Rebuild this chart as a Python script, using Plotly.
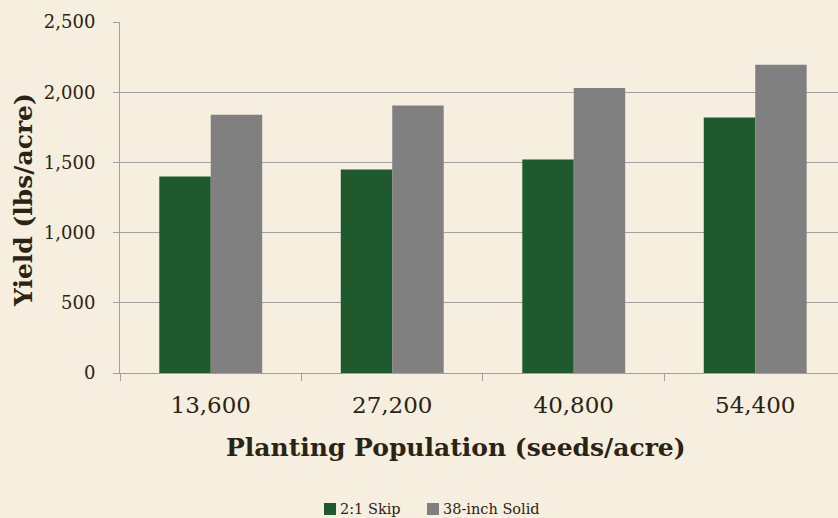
import plotly.graph_objects as go

categories = ["13,600", "27,200", "40,800", "54,400"]
skip_2_1 = [1400, 1450, 1520, 1820]
solid_38 = [1840, 1905, 2030, 2195]
series_names = ["2:1 Skip", "38-inch Solid"]
series_colors = ["#1f5a2e", "#808080"]
y_ticks = [0, 500, 1000, 1500, 2000, 2500]
y_ticklabels = ["0", "500", "1,000", "1,500", "2,000", "2,500"]

TEXT = "#2b2313"
FONT = "DejaVu Serif"
W, H = 838, 518
ML, MR, MT, MB = 120, 0, 22, 145

fig = go.Figure()
fig.add_trace(go.Bar(x=categories, y=skip_2_1, name=series_names[0],
                     marker=dict(color=series_colors[0], line=dict(width=0))))
fig.add_trace(go.Bar(x=categories, y=solid_38, name=series_names[1],
                     marker=dict(color=series_colors[1], line=dict(width=0))))

pw = W - ML - MR
ph = H - MT - MB
def px_x(p):
    return (p - ML) / pw
def px_y(p):
    return (H - MB - p) / ph

# manual legend (Excel-style: small square then text)
legend_x = [324, 427]
shapes = []
annotations = []
for i, name in enumerate(series_names):
    x0 = legend_x[i]
    shapes.append(dict(type="rect", xref="paper", yref="paper",
                       x0=px_x(x0), x1=px_x(x0 + 12),
                       y0=px_y(503), y1=px_y(515),
                       fillcolor=series_colors[i], line=dict(width=0)))
    annotations.append(dict(text=name, xref="paper", yref="paper",
                            x=px_x(x0 + 14), y=px_y(509),
                            xanchor="left", yanchor="middle", showarrow=False,
                            font=dict(size=14.5, family=FONT, color=TEXT)))

annotations += [
    dict(text="<b>Yield (lbs/acre)</b>", textangle=-90,
         xref="paper", yref="paper", x=px_x(23), y=px_y(200),
         xanchor="center", yanchor="middle", showarrow=False,
         font=dict(size=25, family=FONT, color=TEXT)),
    dict(text="<b>Planting Population (seeds/acre)</b>",
         xref="paper", yref="paper", x=px_x(456), y=px_y(448),
         xanchor="center", yanchor="middle", showarrow=False,
         font=dict(size=25, family=FONT, color=TEXT)),
]

fig.update_layout(
    width=W, height=H,
    margin=dict(l=ML, r=MR, t=MT, b=MB, pad=0, autoexpand=False),
    paper_bgcolor="#f6efdf",
    plot_bgcolor="rgba(0,0,0,0)",
    barmode="group",
    bargap=0.433,
    bargroupgap=0,
    font=dict(family=FONT, color=TEXT),
    showlegend=False,
    xaxis=dict(
        type="category",
        range=[-0.5, 3.456],
        tickson="boundaries",
        ticks="outside", ticklen=7, tickcolor="#a0a0a0", tickwidth=1,
        showline=True, linecolor="#a0a0a0", linewidth=1,
        showgrid=False,
        tickfont=dict(size=23, family=FONT, color=TEXT),
        ticklabelstandoff=11,
    ),
    yaxis=dict(
        range=[0, 2500],
        tickvals=y_ticks, ticktext=y_ticklabels,
        ticks="outside", ticklen=6, tickcolor="#a0a0a0", tickwidth=1,
        showline=True, linecolor="#a0a0a0", linewidth=1,
        showgrid=True, gridcolor="#a0a0a0", gridwidth=1,
        zeroline=False,
        tickfont=dict(size=18, family=FONT, color=TEXT),
        ticklabelstandoff=14,
    ),
    shapes=shapes,
    annotations=annotations,
)

fig.write_html("out.html")
